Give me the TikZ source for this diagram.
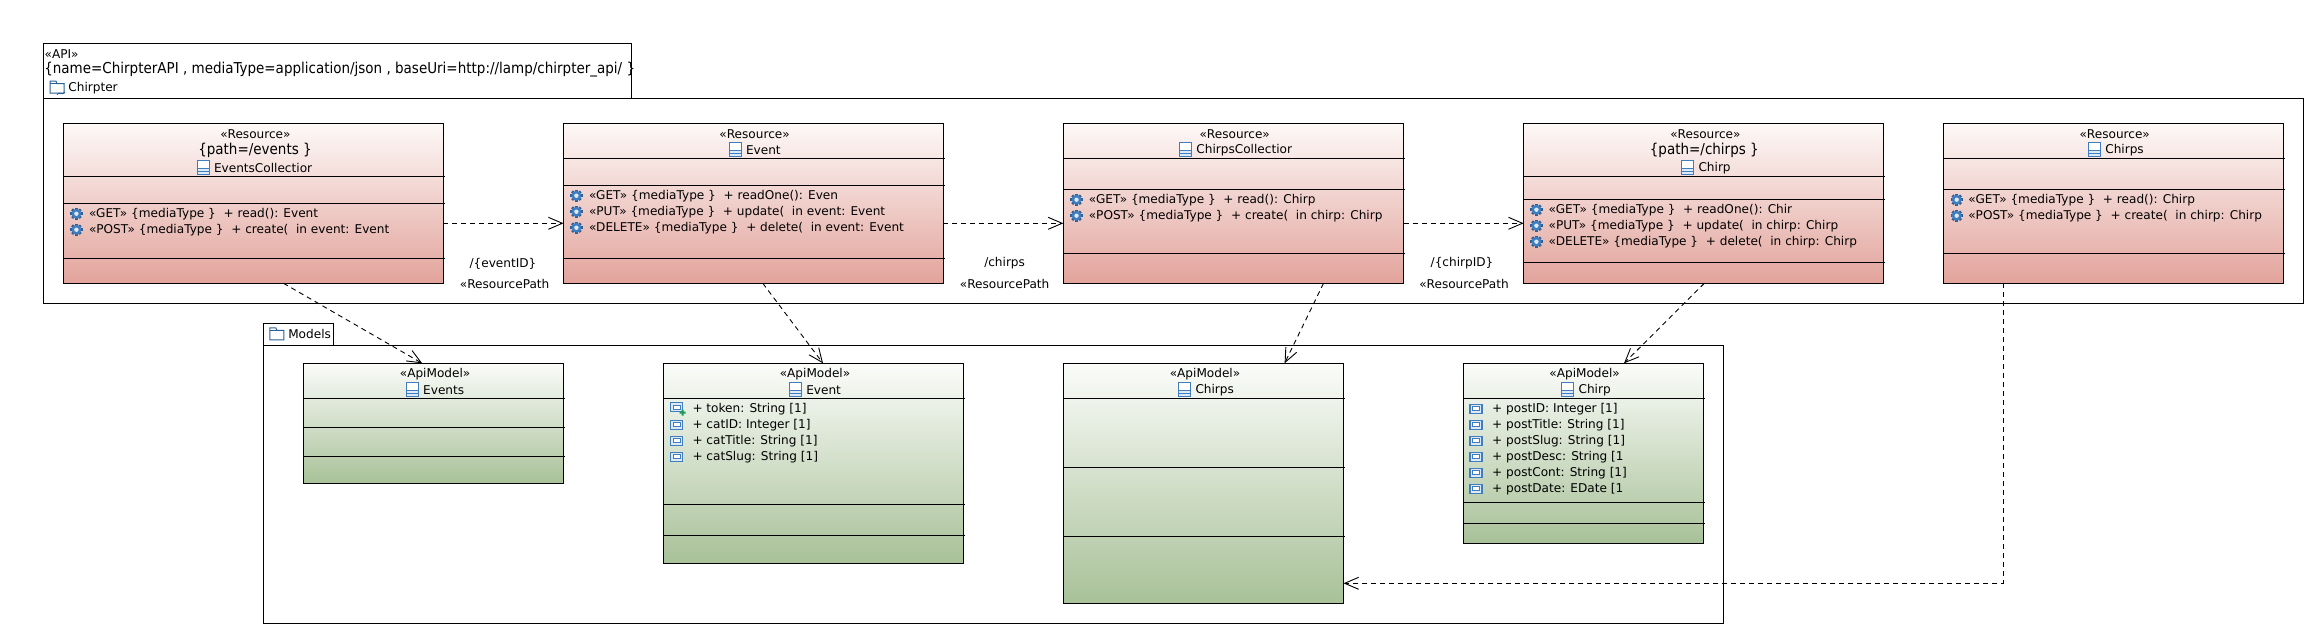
\documentclass[tikz,border=0pt]{standalone}
\usepackage{fontspec}
\setmainfont{DejaVu Sans}
\newfontfamily\condfont{DejaVu Sans Condensed}
\usetikzlibrary{arrows.meta,calc}
\definecolor{iconblue}{HTML}{3F7DBE}
\definecolor{icondark}{HTML}{2A6099}
\definecolor{iconlight}{HTML}{DCE9F6}
\definecolor{plusgreen}{HTML}{1E9A5A}
\definecolor{resTop}{HTML}{FDF9F8}
\definecolor{resBot}{HTML}{E2A39B}
\definecolor{modTop}{HTML}{FBFCFA}
\definecolor{modBot}{HTML}{A8C198}
\newcounter{lbl}
\newcommand{\smallfont}{\fontsize{12.1}{14}\selectfont}
\newcommand{\bigfont}{\condfont\fontsize{15}{17}\selectfont}
\tikzset{
  boxbase/.style={draw=black,line width=1pt,inner sep=0pt,outer sep=0pt,anchor=north west},
  resbox/.style={boxbase,top color=resTop,bottom color=resBot,shading angle=0},
  modbox/.style={boxbase,top color=modTop,bottom color=modBot,shading angle=0},
  pkgbox/.style={boxbase,fill=white},
  txt/.style={inner sep=0pt,outer sep=0pt,text=black,font=\smallfont},
  bigtxt/.style={inner sep=0pt,outer sep=0pt,text=black,font=\bigfont},
  dep/.style={draw=black,line width=0.9pt,dash pattern=on 5pt off 4pt,-{Straight Barb[length=14pt,width=12pt,line width=0.9pt]}},
  sep/.style={draw=black,line width=1pt},
}
% name, style, left, top, right, bottom, separators
\newcommand{\classbox}[7]{%
  \pgfmathsetmacro{\bw}{#5-#3}\pgfmathsetmacro{\bh}{#6-#4}%
  \node[#2,minimum width=\bw pt,minimum height=\bh pt] (#1) at (#3,#4) {};
  \foreach \ly in {#7} {\draw[sep] (#3,\ly) -- (#5+1.5,\ly);}
}
\newcommand{\ctext}[4][txt]{\stepcounter{lbl}\node[#1,anchor=center] (c\thelbl) at (#2,#3) {#4};}
\newcommand{\ltext}[4][txt]{\stepcounter{lbl}\node[#1,anchor=west] (l\thelbl) at (#2,#3) {#4};}
% class icon at centre x,y
\newcommand{\classicon}[2]{%
  \begin{scope}[shift={(#1,#2)}]
  \draw[iconblue,fill=white,line width=0.9pt] (-6,-7.2) rectangle (6,7.2);
  \fill[iconlight] (-5.5,1) rectangle (5.5,6.7);
  \draw[iconblue,line width=0.9pt] (-6,0.8) -- (6,0.8) (-6,4) -- (6,4);
  \end{scope}}
\newcommand{\gear}[2]{%
  \begin{scope}[shift={(#1,#2)}]
  \foreach \a in {0,45,...,315} {\fill[icondark,rotate=\a] (-1.3,3) rectangle (1.3,6.1);}
  \fill[iconblue] (0,0) circle (4.9);
  \fill[iconlight] (0,0) circle (2.2);
  \end{scope}}
\newcommand{\attr}[2]{%
  \begin{scope}[shift={(#1,#2)}]
  \draw[iconblue,fill=iconlight,line width=1.2pt] (-6,-4.5) rectangle (6,4.5);
  \draw[iconblue,fill=white,line width=0.8pt] (-3.4,-2.2) rectangle (3.4,1.8);
  \end{scope}}
\newcommand{\folder}[2]{%
  \begin{scope}[shift={(#1,#2)}]
  \draw[icondark,fill=white,line width=1pt] (-7,-6.5) -- (-1,-6.5) -- (0,-4) -- (7,-4) -- (7,5.5) -- (-7,5.5) -- cycle;
  \draw[icondark,line width=1pt] (-7,-4) -- (0,-4);
  \end{scope}}
\begin{document}
\begin{tikzpicture}[x=1pt,y=-1pt]
\useasboundingbox (0,0) rectangle (2314,634);
\fill[white] (0,0) rectangle (2314,634);

% API package
\node[pkgbox,minimum width=2260pt,minimum height=205pt] (apibody) at (43.4,98.3) {};
\node[pkgbox,minimum width=587.6pt,minimum height=55pt] (apitab) at (43.4,43.3) {};
\ltext{44.7}{53.7}{«API»}
\ltext[bigtxt]{44.3}{70}{\{name=ChirpterAPI , mediaType=application/json , baseUri=http://lamp/chirpter\_api/ \}}
\folder{57}{87.7}
\draw[icondark,line width=1pt] (57,94.5) .. controls (60,91) and (62,96) .. (65,92);
\ltext{68.4}{87.7}{Chirpter}

% Models package
\node[pkgbox,minimum width=1459.8pt,minimum height=278.3pt] (modelsbody) at (263.4,345) {};
\node[pkgbox,minimum width=70.3pt,minimum height=21.7pt] (modelstab) at (263.4,323.3) {};
\folder{276.8}{334.3}
\ltext{288.3}{334.3}{Models}

% Resources
\classbox{r1}{resbox}{63.5}{123.3}{443.4}{283.3}{176.3,203.3,258.3}
\classbox{r2}{resbox}{563.5}{123.3}{943.4}{283.3}{158.3,185.3,258.3}
\classbox{r3}{resbox}{1063.3}{123.3}{1403.6}{283.3}{158.3,189.3,253.3}
\classbox{r4}{resbox}{1523.6}{123.3}{1883.8}{283.3}{176.3,199.3,262.3}
\classbox{r5}{resbox}{1943.9}{123.3}{2283.7}{283.3}{158.3,189.3,253.3}

% Models
\classbox{m1}{modbox}{303.6}{363.3}{563.3}{483.3}{398.3,427.3,456.3}
\classbox{m2}{modbox}{663.3}{363.3}{963.6}{563.3}{398.3,504.3,535.3}
\classbox{m3}{modbox}{1063.6}{363.3}{1343.5}{603.3}{398.3,467,536.3}
\classbox{m4}{modbox}{1463.4}{363.3}{1703}{543.3}{398.3,502.3,523.3}

% Resource headers
\ctext{255.4}{133.7}{«Resource»}
\ctext[bigtxt]{255}{150}{\{path=/events \}}
\classicon{203}{167.7}\ltext{214}{167.7}{EventsCollectior}
\ctext{754.6}{133.7}{«Resource»}
\classicon{735}{149.7}\ltext{746}{149.7}{Event}
\ctext{1234.7}{133.7}{«Resource»}
\classicon{1185.7}{149.7}\ltext{1196.4}{149.7}{ChirpsCollectior}
\ctext{1705.4}{133.7}{«Resource»}
\ctext[bigtxt]{1704.3}{150.3}{\{path=/chirps \}}
\classicon{1687.4}{167.7}\ltext{1698.5}{167.7}{Chirp}
\ctext{2114.7}{133.7}{«Resource»}
\classicon{2094}{149.7}\ltext{2105.3}{149.7}{Chirps}

% Resource operations
\gear{76.4}{213.7}\ltext{89}{213.7}{«GET» \{mediaType \}\ \ + read(): Event}
\gear{76.4}{229.7}\ltext{89}{229.7}{«POST» \{mediaType \}\ \ + create(\ \ in event: Event}
\gear{576.4}{195.7}\ltext{589}{195.7}{«GET» \{mediaType \}\ \ + readOne(): Even}
\gear{576.4}{211.7}\ltext{589}{211.7}{«PUT» \{mediaType \}\ \ + update(\ \ in event: Event}
\gear{576.4}{227.7}\ltext{589}{227.7}{«DELETE» \{mediaType \}\ \ + delete(\ \ in event: Event}
\gear{1076.5}{199.7}\ltext{1088.8}{199.7}{«GET» \{mediaType \}\ \ + read(): Chirp}
\gear{1076.5}{215.7}\ltext{1088.8}{215.7}{«POST» \{mediaType \}\ \ + create(\ \ in chirp: Chirp}
\gear{1536.4}{209.7}\ltext{1548.6}{209.7}{«GET» \{mediaType \}\ \ + readOne(): Chir}
\gear{1536.4}{225.7}\ltext{1548.6}{225.7}{«PUT» \{mediaType \}\ \ + update(\ \ in chirp: Chirp}
\gear{1536.4}{241.7}\ltext{1548.6}{241.7}{«DELETE» \{mediaType \}\ \ + delete(\ \ in chirp: Chirp}
\gear{1956.7}{199.7}\ltext{1968.3}{199.7}{«GET» \{mediaType \}\ \ + read(): Chirp}
\gear{1956.7}{215.7}\ltext{1968.3}{215.7}{«POST» \{mediaType \}\ \ + create(\ \ in chirp: Chirp}

% Model headers
\ctext{435.1}{373.7}{«ApiModel»}
\classicon{412.2}{389.7}\ltext{423.2}{389.7}{Events}
\ctext{815}{373.7}{«ApiModel»}
\classicon{795.3}{389.7}\ltext{806.3}{389.7}{Event}
\ctext{1205}{373.7}{«ApiModel»}
\classicon{1184.2}{389.7}\ltext{1195.5}{389.7}{Chirps}
\ctext{1584.6}{373.7}{«ApiModel»}
\classicon{1567.2}{389.7}\ltext{1578.6}{389.7}{Chirp}

% Model attributes
\attr{676.6}{407.2}
\fill[plusgreen] (679.5,411.5) rectangle (685.5,413.5) (681.5,409.5) rectangle (683.5,415.5);
\ltext{692.5}{408.7}{+ token: String [1]}
\attr{676.6}{424.7}\ltext{692.5}{424.7}{+ catID: Integer [1]}
\attr{676.6}{440.7}\ltext{692.5}{440.7}{+ catTitle: String [1]}
\attr{676.6}{456.7}\ltext{692.5}{456.7}{+ catSlug: String [1]}
\attr{1476}{408.7}\ltext{1492.2}{408.7}{+ postID: Integer [1]}
\attr{1476}{424.7}\ltext{1492.2}{424.7}{+ postTitle: String [1]}
\attr{1476}{440.7}\ltext{1492.2}{440.7}{+ postSlug: String [1]}
\attr{1476}{456.7}\ltext{1492.2}{456.7}{+ postDesc: String [1}
\attr{1476}{472.7}\ltext{1492.2}{472.7}{+ postCont: String [1]}
\attr{1476}{488.7}\ltext{1492.2}{488.7}{+ postDate: EDate [1}

% Connectors
\draw[dep] ([yshift=60pt]r1.south east) -- ([yshift=60pt]r2.south west);
\draw[dep] ([yshift=60pt]r2.south east) -- ([yshift=60pt]r3.south west);
\draw[dep] ([yshift=60pt]r3.south east) -- ([yshift=60pt]r4.south west);
\draw[dep] ([xshift=220pt]r1.south west) -- ([xshift=118.6pt]m1.north west);
\draw[dep] ([xshift=199.3pt]r2.south west) -- ([xshift=159.7pt]m2.north west);
\draw[dep] ([xshift=260.2pt]r3.south west) -- ([xshift=221pt]m3.north west);
\draw[dep] ([xshift=180.7pt]r4.south west) -- ([xshift=160.6pt]m4.north west);
\draw[dep] ([xshift=59.4pt]r5.south west) |- ([yshift=20pt]m3.south east);

% Connector labels
\ctext{503}{263.7}{/\{eventID\}}
\ctext{504.6}{283.7}{«ResourcePath}
\ctext{1004.6}{263.3}{/chirps}
\ctext{1004.6}{283.7}{«ResourcePath}
\ctext{1462}{263.3}{/\{chirpID\}}
\ctext{1464}{283.7}{«ResourcePath}
\end{tikzpicture}
\end{document}
